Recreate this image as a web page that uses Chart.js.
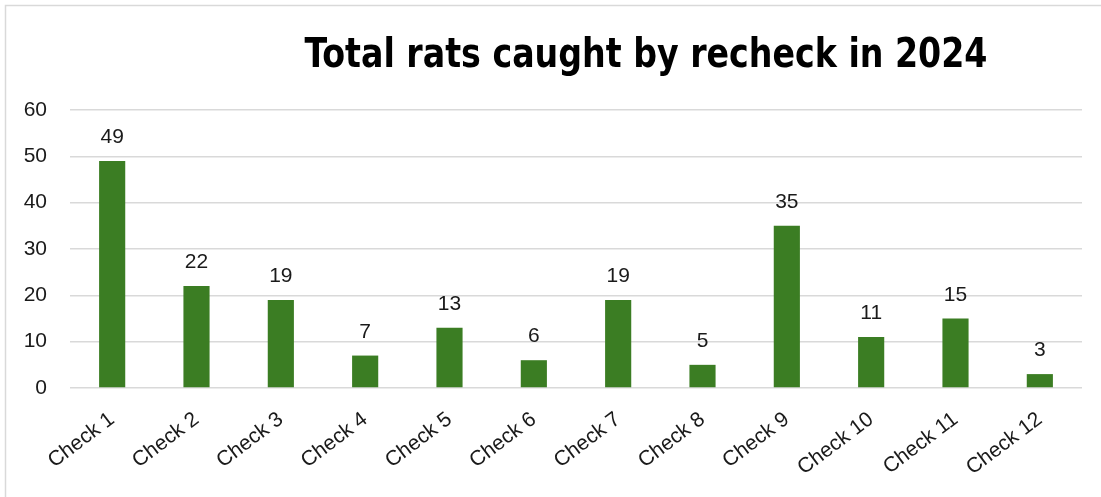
<!DOCTYPE html>
<html>
<head>
<meta charset="utf-8">
<script src="https://cdn.jsdelivr.net/npm/chart.js@4.4.1/dist/chart.umd.min.js"></script>
<style>
  html, body { margin: 0; padding: 0; background: #fff; }
  #wrap { position: relative; width: 1101px; height: 497px; }
</style>
</head>
<body>
<div id="wrap"><canvas id="chartCanvas" width="1101" height="497"></canvas></div>
<script>
const titleText = 'Total rats caught by recheck in 2024';
const checks = ['Check 1', 'Check 2', 'Check 3', 'Check 4', 'Check 5', 'Check 6',
                'Check 7', 'Check 8', 'Check 9', 'Check 10', 'Check 11', 'Check 12'];
const ratsCaught = [49, 22, 19, 7, 13, 6, 19, 5, 35, 11, 15, 3];
const yTicks = [0, 10, 20, 30, 40, 50, 60];

const textColor = '#1a1a1a';
const labelFont = { family: '"Liberation Sans", Arial, sans-serif', size: 21 };

// outer frame + title, drawn on the canvas
const framePlugin = {
    id: 'frame',
    beforeDraw(chart){
        const ctx = chart.ctx;
        ctx.save();
        ctx.strokeStyle = '#d9d9d9';
        ctx.lineWidth = 1.5;
        ctx.beginPath();
        ctx.moveTo(5.5, chart.height + 2);
        ctx.lineTo(5.5, 5.5);
        ctx.lineTo(chart.width + 2, 5.5);
        ctx.stroke();
        ctx.restore();
    },
    afterDraw(chart){
        const ctx = chart.ctx;
        ctx.save();
        ctx.font = 'bold 41px "DejaVu Sans Condensed", "Liberation Sans Narrow", sans-serif';
        ctx.fillStyle = '#000';
        ctx.textAlign = 'center';
        ctx.textBaseline = 'alphabetic';
        // squeeze the title a little so it sits between x=305 and x=988
        const w = ctx.measureText(titleText).width;
        const sx = Math.min(1, 683 / w);
        ctx.translate(646, 67);
        ctx.scale(sx, 1);
        ctx.fillText(titleText, 0, 0);
        ctx.restore();
    }
};

// value above each bar
const valueLabels = {
    id: 'valueLabels',
    afterDatasetsDraw(chart){
        const ctx = chart.ctx;
        const meta = chart.getDatasetMeta(0);
        ctx.save();
        ctx.font = labelFont.size + 'px ' + labelFont.family;
        ctx.fillStyle = textColor;
        ctx.textAlign = 'center';
        ctx.textBaseline = 'alphabetic';
        meta.data.forEach((bar, i) => {
            ctx.fillText(String(chart.data.datasets[0].data[i]), bar.x, bar.y - 18);
        });
        ctx.restore();
    }
};

const ctx = document.getElementById('chartCanvas');

new Chart(ctx, {
    type: 'bar',
    data: {
        labels: checks,
        datasets: [{
            label: 'Rats caught',
            data: ratsCaught,
            backgroundColor: '#3b7d23',
            borderWidth: 0,
            barPercentage: 0.31,
            categoryPercentage: 1
        }]
    },
    options: {
        responsive: false,
        animation: false,
        devicePixelRatio: 1,
        layout: { padding: { left: 5, right: 19, top: 110, bottom: 0 } },
        plugins: {
            legend: { display: false },
            title: { display: false },
            tooltip: { enabled: false }
        },
        scales: {
            x: {
                grid: { display: false },
                border: { display: false },
                ticks: {
                    color: textColor,
                    font: labelFont,
                    minRotation: 37,
                    maxRotation: 37,
                    autoSkip: false,
                    padding: 11
                },
                afterFit(scale){ scale.height = 109; }
            },
            y: {
                min: 0,
                max: 60,
                afterBuildTicks(scale){ scale.ticks = yTicks.map(v => ({ value: v })); },
                grid: { color: '#d9d9d9', lineWidth: 1.5, drawTicks: false },
                border: { display: false },
                ticks: {
                    color: textColor,
                    font: labelFont,
                    padding: 23
                },
                afterFit(scale){ scale.width = 65; }
            }
        }
    },
    plugins: [framePlugin, valueLabels]
});
</script>
</body>
</html>
